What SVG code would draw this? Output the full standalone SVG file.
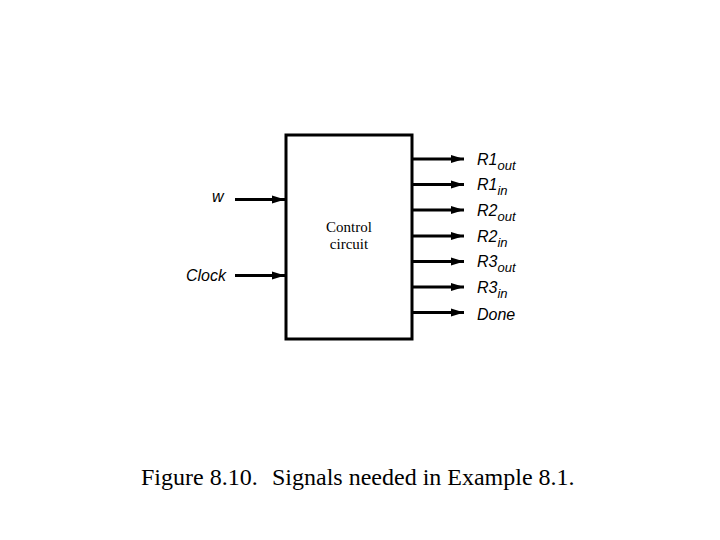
<svg xmlns="http://www.w3.org/2000/svg" width="720" height="540" viewBox="0 0 720 540">
<style>
.w{stroke:#000;stroke-width:3;fill:none}
.lbl{font-family:"Liberation Sans",Arial,sans-serif;font-style:italic;font-size:16px;fill:#000}
.sub{font-size:13px}
.ser{font-family:"Liberation Serif","Times New Roman",serif;fill:#000}
</style>
<defs>
<marker id="ah" markerWidth="14" markerHeight="10" refX="13" refY="5" orient="auto" markerUnits="userSpaceOnUse">
<path d="M0,1 L13,5 L0,9 Z" fill="#000"/>
</marker>
</defs>
<rect width="720" height="540" fill="#fff"/>
<g id="control">
<rect x="286" y="135" width="126" height="204" class="w"/>
<text class="ser" font-size="15" text-anchor="middle" x="349" y="232">Control</text>
<text class="ser" font-size="15" text-anchor="middle" x="349" y="249">circuit</text>
</g>
<g id="connectors" class="w">
<line x1="235" y1="199.5" x2="285" y2="199.5" marker-end="url(#ah)"/>
<line x1="235" y1="275.5" x2="285" y2="275.5" marker-end="url(#ah)"/>
<line x1="412" y1="159" x2="464" y2="159" marker-end="url(#ah)"/>
<line x1="412" y1="184.5" x2="464" y2="184.5" marker-end="url(#ah)"/>
<line x1="412" y1="210" x2="464" y2="210" marker-end="url(#ah)"/>
<line x1="412" y1="236" x2="464" y2="236" marker-end="url(#ah)"/>
<line x1="412" y1="261.5" x2="464" y2="261.5" marker-end="url(#ah)"/>
<line x1="412" y1="287" x2="464" y2="287" marker-end="url(#ah)"/>
<line x1="412" y1="312.5" x2="464" y2="312.5" marker-end="url(#ah)"/>
</g>
<g id="inputs">
<text class="lbl" font-size="13" x="212" y="202">w</text>
<text class="lbl" font-size="15" x="186" y="281">Clock</text>
</g>
<g id="outputs">
<text class="lbl" x="477" y="165">R1<tspan class="sub" dy="5">out</tspan></text>
<text class="lbl" x="477" y="190">R1<tspan class="sub" dy="5">in</tspan></text>
<text class="lbl" x="477" y="216">R2<tspan class="sub" dy="5">out</tspan></text>
<text class="lbl" x="477" y="242">R2<tspan class="sub" dy="5">in</tspan></text>
<text class="lbl" x="477" y="267">R3<tspan class="sub" dy="5">out</tspan></text>
<text class="lbl" x="477" y="293">R3<tspan class="sub" dy="5">in</tspan></text>
<text class="lbl" font-size="15" x="477" y="320">Done</text>
</g>
<g id="caption">
<text class="ser" font-size="24" x="141" y="485">Figure 8.10.</text>
<text class="ser" font-size="24" x="272" y="485">Signals needed in Example 8.1.</text>
</g>
</svg>
